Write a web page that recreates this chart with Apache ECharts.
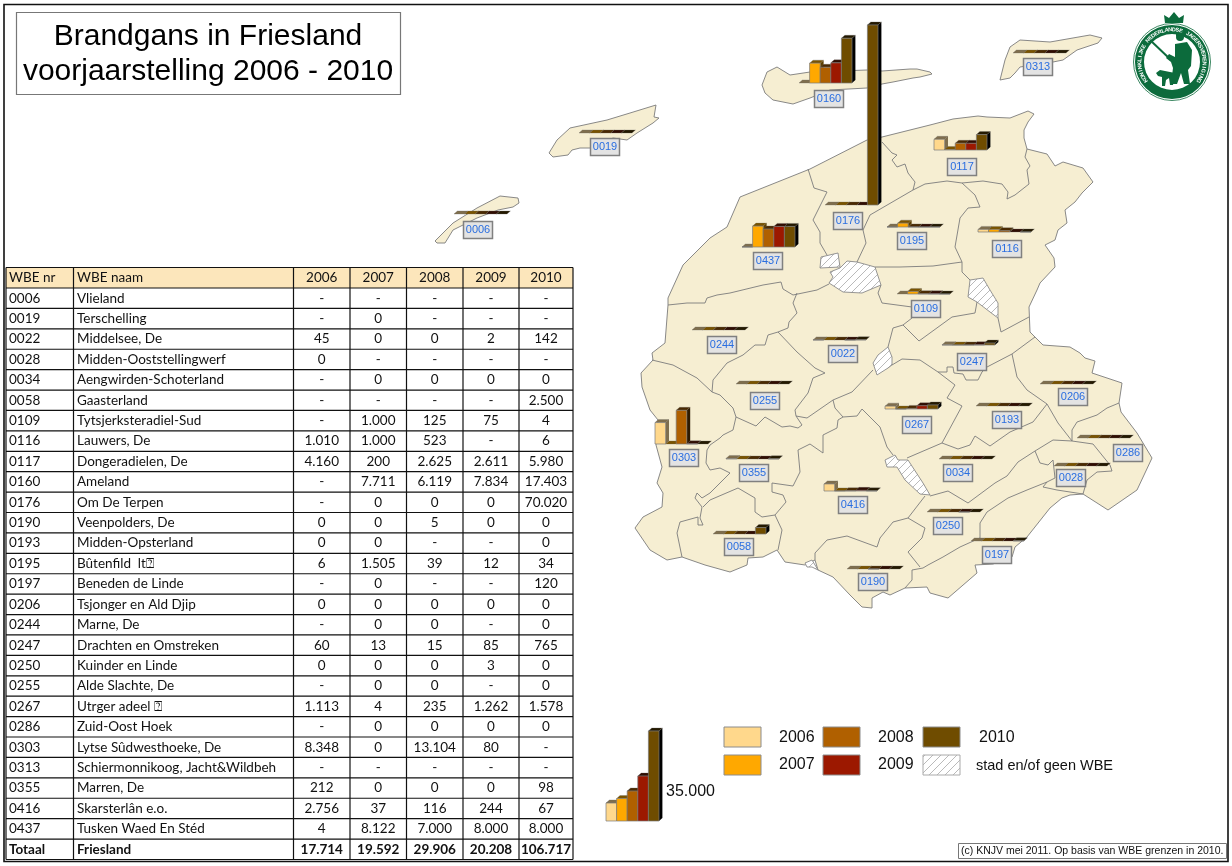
<!DOCTYPE html>
<html>
<head>
<meta charset="utf-8">
<title>Brandgans in Friesland</title>
<style>
  html, body { margin: 0; padding: 0; background: #fff; }
  #kaart { width: 1232px; height: 866px; }
</style>
<script src="https://cdn.jsdelivr.net/npm/echarts@6/dist/echarts.min.js"></script>
</head>
<body>
<div id="kaart"></div>
<script>
// tabel
const jaren = ["2006", "2007", "2008", "2009", "2010"];
const wbeNr = ["0006", "0019", "0022", "0028", "0034", "0058", "0109", "0116", "0117", "0160", "0176", "0190", "0193", "0195", "0197", "0206", "0244", "0247", "0250", "0255", "0267", "0286", "0303", "0313", "0355", "0416", "0437"];
const wbeNaam = ["Vlieland", "Terschelling", "Middelsee, De", "Midden-Ooststellingwerf", "Aengwirden-Schoterland", "Gaasterland", "Tytsjerksteradiel-Sud", "Lauwers, De", "Dongeradielen, De", "Ameland", "Om De Terpen", "Veenpolders, De", "Midden-Opsterland", "Bûtenfild  lt⍰", "Beneden de Linde", "Tsjonger en Ald Djip", "Marne, De", "Drachten en Omstreken", "Kuinder en Linde", "Alde Slachte, De", "Utrger adeel ⍰", "Zuid-Oost Hoek", "Lytse Sûdwesthoeke, De", "Schiermonnikoog, Jacht&Wildbeh", "Marren, De", "Skarsterlân e.o.", "Tusken Waed En Stéd"];
// null = "-" in de tabel
const j2006 = [null, null, 45, 0, null, null, null, 1010, 4160, null, null, 0, 0, 6, null, 0, null, 60, 0, null, 1113, null, 8348, null, 212, 2756, 4];
const j2007 = [null, 0, 0, null, 0, null, 1000, 1000, 200, 7711, 0, 0, 0, 1505, 0, 0, 0, 13, 0, 0, 4, 0, 0, null, 0, 37, 8122];
const j2008 = [null, null, 0, null, 0, null, 125, 523, 2625, 6119, 0, 5, null, 39, null, 0, 0, 15, 0, 0, 235, 0, 13104, null, 0, 116, 7000];
const j2009 = [null, null, 2, null, 0, null, 75, null, 2611, 7834, 0, 0, null, 12, null, 0, null, 85, 3, null, 1262, 0, 80, null, 0, 244, 8000];
const j2010 = [null, null, 142, null, 0, 2500, 4, 6, 5980, 17403, 70020, 0, 0, 34, 120, 0, 0, 765, 0, 0, 1578, 0, null, null, 98, 67, 8000];
const totaal = [17714, 19592, 29906, 20208, 106717];
const legendaWaarden = [7000, 8750, 11667, 17500, 35000];

// kaartgeometrie, in schermpixels
const vasteland = [[740,197],[810,169],[867,140],[882,137],[930,125],[953,119],[978,116],[987,117],[1010,118],[1028,111],[1034,114],[1028,122],[1024,130],[1024,138],[1027,149],[1047,154],[1055,166],[1063,162],[1083,168],[1093,182],[1082,193],[1075,202],[1065,210],[1067,223],[1058,230],[1055,240],[1045,245],[1054,258],[1055,267],[1040,283],[1037,290],[1029,307],[1030,332],[1035,337],[1043,345],[1070,347],[1080,353],[1085,358],[1095,361],[1092,373],[1122,383],[1119,403],[1121,412],[1137,433],[1152,458],[1137,490],[1108,510],[1083,494],[1070,495],[1062,498],[1050,508],[1027,537],[1015,547],[1012,557],[993,564],[975,565],[977,573],[955,592],[948,598],[930,593],[927,587],[905,588],[890,595],[883,592],[872,598],[872,608],[862,607],[850,595],[833,577],[818,570],[815,560],[805,565],[785,562],[777,550],[763,557],[748,558],[747,565],[730,572],[705,565],[682,557],[667,560],[650,550],[635,528],[643,517],[662,507],[663,493],[657,483],[662,467],[656,445],[658,420],[650,410],[642,387],[641,373],[653,360],[652,353],[665,343],[668,305],[668,298],[683,265],[710,238],[727,227]];
const eilanden = {
  Vlieland: [[435,241],[453,223],[477,208],[500,196],[518,198],[519,203],[513,207],[498,210],[477,218],[463,225],[453,230],[445,243],[437,243]],
  Terschelling: [[549,153],[557,140],[570,128],[607,120],[630,113],[656,105],[654,117],[659,118],[653,123],[637,133],[627,140],[613,138],[590,148],[580,148],[572,150],[568,155],[553,157]],
  Ameland: [[762,85],[767,72],[777,67],[790,75],[810,72],[867,70],[882,71],[910,69],[917,69],[930,72],[932,74],[920,77],[913,78],[893,82],[882,84],[867,88],[830,90],[810,98],[793,104],[773,100],[765,93]],
  Schiermonnikoog: [[1000,80],[1005,60],[1010,47],[1020,40],[1050,42],[1090,35],[1102,38],[1098,43],[1077,50],[1063,60],[1053,62],[1020,67],[1015,73],[1010,78]]
};
const stadVlakken = {
  stad1: [[847,261],[857,262],[875,267],[881,285],[862,293],[843,292],[829,283],[833,277],[830,272],[840,268]],
  stad2: [[821,257],[838,253],[840,267],[820,268]],
  stad3: [[970,280],[983,278],[990,290],[998,303],[998,318],[990,312],[977,302],[968,297]],
  stad4: [[888,347],[892,357],[892,365],[888,368],[877,375],[873,363],[878,355]],
  stad5: [[885,460],[895,455],[898,460],[908,460],[923,483],[930,495],[920,494],[905,480],[897,467],[887,467]],
  stad6: [[805,563],[812,560],[818,570],[812,567],[807,567]]
};
const grenzen = [
  [[808,169],[814,188],[827,192],[813,220],[820,232],[820,243],[827,255]],
  [[882,142],[892,153],[897,155],[892,160],[897,167],[905,164],[908,173],[915,182],[913,190]],
  [[913,190],[870,215],[863,230],[866,243],[857,262]],
  [[913,190],[925,184],[947,181],[962,183],[983,181],[1002,184],[1008,192],[1007,199],[1015,195],[1029,184],[1027,170],[1030,166],[1025,157],[1027,149]],
  [[962,183],[975,195],[980,207],[968,208],[960,218],[955,247],[962,262],[962,272],[970,280]],
  [[962,262],[933,266],[900,267],[875,267]],
  [[668,305],[687,303],[705,303],[707,298],[717,295],[730,293],[763,285],[781,282],[783,289],[793,295],[817,290],[829,284]],
  [[797,293],[793,303],[797,313],[789,322],[788,328],[778,332],[768,335],[765,345],[755,345],[743,355],[727,363],[713,380],[712,392]],
  [[652,360],[673,365],[697,378],[712,392]],
  [[778,332],[797,352],[815,368],[825,373],[813,378],[808,393],[795,410],[796,416]],
  [[712,392],[720,395],[733,408],[736,417],[756,426],[765,417],[782,427],[790,426],[798,428],[802,425],[796,416],[807,418],[833,400],[852,392],[873,370]],
  [[881,285],[878,293],[882,303],[912,307],[912,318],[903,325],[893,328],[888,347]],
  [[903,325],[919,341],[952,317],[975,313],[977,302]],
  [[998,318],[1001,332],[1029,317]],
  [[892,365],[902,359],[920,360],[938,372],[947,372],[947,367],[953,367],[954,373],[963,374],[966,380],[978,380],[982,372],[987,367],[1012,354],[1035,337]],
  [[938,372],[955,385],[947,398],[962,406],[942,443],[907,458]],
  [[942,443],[958,449],[970,445],[975,436],[990,446],[1010,432],[1033,422],[1047,404]],
  [[1012,354],[1017,377],[1027,390],[1047,404],[1058,423],[1072,441]],
  [[1072,441],[1072,430],[1077,422],[1097,415],[1107,408],[1119,403]],
  [[1072,441],[1093,444],[1110,465],[1112,471],[1097,472],[1087,480],[1083,494]],
  [[1072,441],[1053,440],[1035,451],[1018,462],[1007,476],[995,483],[968,503],[948,491],[930,496]],
  [[1035,451],[1040,463],[1048,465],[1053,460],[1055,478],[1047,482],[1043,487],[1057,490],[1083,494]],
  [[1047,482],[1027,490],[1008,498],[987,512],[980,523],[980,538],[960,547],[943,557],[928,565],[923,568],[912,570],[912,580],[905,588]],
  [[925,496],[908,518],[925,528],[922,538],[908,552],[920,567]],
  [[908,518],[893,522],[880,538],[877,547],[847,536],[827,540],[815,553],[815,560]],
  [[833,400],[835,408],[843,417],[838,420],[837,428],[823,435],[823,453],[810,444],[798,450],[800,472],[793,486],[772,483],[772,492],[783,495],[786,502],[775,515],[762,517],[755,512],[755,498],[738,488],[710,500],[703,507]],
  [[843,417],[857,416],[862,409],[880,427],[887,447],[893,455]],
  [[775,515],[782,530],[778,550]],
  [[736,417],[733,430],[723,435],[720,438],[710,445],[707,450],[706,463],[710,470],[720,468],[730,473],[710,493],[702,498],[697,493],[695,498],[702,507],[700,518],[703,525],[698,525],[698,517],[680,522],[677,533],[682,557]]
];

// ankerpunten per WBE in kaartcoordinaten: [balk x, balk y, label x, label y]
const ankers = {
  "0006": [454,214,478,230], "0019": [579,133,605,147], "0022": [813,340,843,354], "0028": [1054,466,1071,478],
  "0034": [939,459,958,473], "0058": [713,534,739,547], "0109": [897,294,926,309], "0116": [978,232,1007,249],
  "0117": [934,150,962,167], "0160": [799,83,829,99], "0176": [825,205,848,221], "0190": [847,569,873,582],
  "0193": [976,406,1007,420], "0195": [887,227,912,241], "0197": [971,541,997,555], "0206": [1040,384,1073,397],
  "0244": [692,330,722,345], "0247": [942,345,972,362], "0250": [927,512,948,526], "0255": [736,384,765,401],
  "0267": [885,409,917,425], "0286": [1077,438,1128,453], "0303": [655,444,684,458], "0313": [1013,53,1038,67],
  "0355": [726,459,754,473], "0416": [824,491,853,505], "0437": [742,247,768,261]
};
const legendaAnker = [606, 821];

const kleurFront = ["#ffd88c", "#ffa800", "#b06000", "#9c1800", "#6f4c00"];
const kleurDak = ["#7f6e4d", "#7a5400", "#4a2a02", "#300d02", "#241900"];
const kleurZij = ["#7f6e4d", "#5c3f00", "#2e1a00", "#1c0600", "#000000"];
const balkB = 10.6, diepteX = 3.4, diepteY = 3;
const font = "Liberation Sans";
const groen = "#0c6b3c";

const rijen = wbeNr.map((nr, i) => [nr, wbeNaam[i], j2006[i], j2007[i], j2008[i], j2009[i], j2010[i]]);
const fmt = (v) => (v === null ? "-" : String(v).replace(/\B(?=(\d{3})+$)/g, "."));

function ring(c) {
  return { type: "Feature", properties: { name: c[0] }, geometry: { type: "Polygon", coordinates: [c[1].concat([c[1][0]])] } };
}
const features = [ring(["Friesland", vasteland])]
  .concat(Object.keys(eilanden).map((k) => ring([k, eilanden[k]])))
  .concat(Object.keys(stadVlakken).map((k) => ring([k, stadVlakken[k]])))
  .concat([{ type: "Feature", properties: { name: "grenzen" }, geometry: { type: "MultiLineString", coordinates: grenzen } }]);
echarts.registerMap("friesland", { type: "FeatureCollection", features: features });

// arcering voor stad en/of geen WBE
function maakArcering() {
  const c = document.createElement("canvas");
  c.width = 8;
  c.height = 8;
  const g = c.getContext("2d");
  g.fillStyle = "#fff";
  g.fillRect(0, 0, 8, 8);
  g.strokeStyle = "#a8a8a8";
  g.lineWidth = 0.8;
  g.beginPath();
  g.moveTo(-1, 9); g.lineTo(9, -1);
  g.moveTo(-1, 1); g.lineTo(1, -1);
  g.moveTo(7, 9); g.lineTo(9, 7);
  g.stroke();
  return c;
}
const arcering = { image: maakArcering(), repeat: "repeat" };

// 3D-balkjes en het label van een WBE
function tekenWbe(params, api) {
  const basis = api.coord([api.value(0), api.value(1)]);
  const kinderen = [];
  for (let k = 0; k < jaren.length; k++) {
    const h = echarts.number.linearMap(api.value(2 + k), [0, 35000], [0, 90]);
    const x0 = basis[0] + k * balkB;
    const x1 = x0 + balkB;
    const yb = basis[1];
    const yt = yb - h;
    kinderen.push({ type: "polygon", shape: { points: [[x1, yt], [x1 + diepteX, yt - diepteY], [x1 + diepteX, yb - diepteY], [x1, yb]] }, style: { fill: kleurZij[k] } });
    kinderen.push({ type: "polygon", shape: { points: [[x0, yt], [x0 + diepteX, yt - diepteY], [x1 + diepteX, yt - diepteY], [x1, yt]] }, style: { fill: kleurDak[k], stroke: "#6a6a6a", lineWidth: 0.3 } });
    if (h > 0) {
      kinderen.push({ type: "rect", shape: { x: x0, y: yt, width: balkB, height: h }, style: { fill: kleurFront[k], stroke: "#7a7a7a", lineWidth: 0.7 } });
    }
  }
  const nr = wbeNr[params.dataIndex];
  if (nr) {
    const p = api.coord([ankers[nr][2], ankers[nr][3]]);
    kinderen.push({ type: "rect", shape: { x: p[0] - 14.5, y: p[1] - 8.5, width: 29, height: 17 }, style: { fill: "#e3e3e3", stroke: "#808080", lineWidth: 1.5 } });
    kinderen.push({ type: "text", style: { text: nr, x: p[0], y: p[1], align: "center", verticalAlign: "middle", fill: "#2a6ee0", font: "11px '" + font + "'" } });
  }
  return { type: "group", children: kinderen };
}

const balkData = rijen
  .map((r) => [ankers[r[0]][0], ankers[r[0]][1]].concat(r.slice(2).map((v) => v || 0)))
  .concat([legendaAnker.concat(legendaWaarden)]);

// tabel als graphic
const kolomX = [6, 73.5, 293.5, 350, 406.5, 463, 519, 573];
const tabelTop = 267.5, kopH = 20.5, rijH = 20.41;
const tabel = [];
function tekst(t, x, y, o) {
  return Object.assign({ type: "text", silent: true, style: Object.assign({ text: t, x: x, y: y, align: "left", verticalAlign: "middle", fill: "#111", font: "13.5px Lato" }, o || {}) });
}
const tabelOnder = tabelTop + kopH + rijH * (rijen.length + 1);
tabel.push({ type: "rect", shape: { x: kolomX[0], y: tabelTop, width: kolomX[7] - kolomX[0], height: kopH }, style: { fill: "#fce6bb" } });
kolomX.forEach((x) => tabel.push({ type: "line", shape: { x1: x, y1: tabelTop, x2: x, y2: tabelOnder }, style: { stroke: "#111", lineWidth: 1.2 } }));
for (let i = 0; i <= rijen.length + 2; i++) {
  const y = i === 0 ? tabelTop : tabelTop + kopH + rijH * (i - 1);
  tabel.push({ type: "line", shape: { x1: kolomX[0], y1: y, x2: kolomX[7], y2: y }, style: { stroke: "#111", lineWidth: 1.2 } });
}
const kopY = tabelTop + kopH / 2;
tabel.push(tekst("WBE nr", 9, kopY), tekst("WBE naam", 77, kopY));
jaren.forEach((j, k) => tabel.push(tekst(j, (kolomX[k + 2] + kolomX[k + 3]) / 2, kopY, { align: "center" })));
rijen.forEach((r, i) => {
  const y = tabelTop + kopH + rijH * (i + 0.5);
  tabel.push(tekst(r[0], 9, y), tekst(r[1], 77, y));
  for (let k = 0; k < 5; k++) {
    tabel.push(tekst(fmt(r[k + 2]), (kolomX[k + 2] + kolomX[k + 3]) / 2, y, { align: "center" }));
  }
});
const totY = tabelTop + kopH + rijH * (rijen.length + 0.5);
const vet = { font: "bold 13.5px Lato" };
tabel.push(tekst("Totaal", 9, totY, vet), tekst("Friesland", 77, totY, vet));
totaal.forEach((v, k) => tabel.push(tekst(fmt(v), (kolomX[k + 2] + kolomX[k + 3]) / 2, totY, Object.assign({ align: "center" }, vet))));

// legenda
const legenda = [];
const swatches = [[724, 727, 0], [724, 755, 1], [823, 727, 2], [823, 755, 3], [923, 727, 4]];
swatches.forEach((s) => legenda.push({ type: "rect", shape: { x: s[0], y: s[1], width: 37, height: 20 }, style: { fill: kleurFront[s[2]], stroke: "#8c8c8c", lineWidth: 1 } }));
legenda.push({ type: "rect", shape: { x: 923, y: 755, width: 37, height: 20 }, style: { fill: arcering, stroke: "#aaa", lineWidth: 1 } });
const legFont = { font: "16px '" + font + "'", fill: "#111" };
[[779, 738, "2006"], [779, 765, "2007"], [878, 738, "2008"], [878, 765, "2009"], [979, 738, "2010"], [666, 792, "35.000"]]
  .forEach((t) => legenda.push(tekst(t[2], t[0], t[1], legFont)));
legenda.push(tekst("stad en/of geen WBE", 976, 766, { font: "14.5px '" + font + "'", fill: "#111" }));

// logo KNJV
const logo = [];
const lx = 1172, ly = 62;
logo.push({ type: "circle", shape: { cx: lx, cy: ly, r: 38.5 }, style: { fill: "#fff", stroke: groen, lineWidth: 0.8 } });
logo.push({ type: "ring", shape: { cx: lx, cy: ly, r: 37, r0: 28 }, style: { fill: groen } });
logo.push({ type: "polygon", shape: { points: [[1165,23],[1164,15],[1169,18],[1174,12],[1179,18],[1184,15],[1183,23]] }, style: { fill: groen } });
const logoTekst = "KONINKLIJKE NEDERLANDSE JAGERSVERENIGING";
Array.from(logoTekst).forEach((ch, i) => {
  const a = (-125 + (250 * i) / (logoTekst.length - 1)) * Math.PI / 180;
  logo.push({ type: "text", x: lx + 32.3 * Math.sin(a), y: ly - 32.3 * Math.cos(a), rotation: -a, style: { text: ch, x: 0, y: 0, align: "center", verticalAlign: "middle", fill: "#fff", font: "bold 5.5px '" + font + "'" } });
});
logo.push({ type: "line", shape: { x1: 1150, y1: 40, x2: 1171, y2: 60 }, style: { stroke: groen, lineWidth: 2 } });
logo.push({ type: "circle", shape: { cx: 1180, cy: 37, r: 4 }, style: { fill: groen } });
logo.push({ type: "polygon", shape: { points: [[1176,33],[1185,32],[1185,35],[1176,36]] }, style: { fill: groen } });
logo.push({ type: "polygon", shape: { points: [[1175,44],[1187,42],[1192,50],[1191,66],[1188,70],[1190,84],[1184,84],[1181,73],[1177,84],[1171,84],[1173,68],[1171,62],[1166,58],[1169,54],[1175,57]] }, style: { fill: groen } });
logo.push({ type: "polygon", shape: { points: [[1156,73],[1160,70],[1165,71],[1175,73],[1173,85],[1170,85],[1169,78],[1166,80],[1165,86],[1162,86],[1162,77],[1158,76]] }, style: { fill: groen } });

const option = {
  animation: false,
  backgroundColor: "#fff",
  geo: {
    map: "friesland",
    silent: true,
    roam: false,
    left: 0,
    top: 0,
    width: 1232,
    height: 866,
    boundingCoords: [[0, 0], [1232, 866]],
    projection: { project: (c) => c, unproject: (c) => c },
    itemStyle: { areaColor: "#f6eed2", borderColor: "#7c7c7c", borderWidth: 0.9 },
    label: { show: false },
    regions: Object.keys(stadVlakken).map((k) => ({ name: k, itemStyle: { areaColor: arcering, borderColor: "#8a8a8a" } }))
  },
  series: [{
    type: "custom",
    coordinateSystem: "geo",
    silent: true,
    renderItem: tekenWbe,
    data: balkData,
    z: 5
  }],
  graphic: {
    elements: [
      { type: "rect", z: 0, silent: true, shape: { x: 4, y: 4.5, width: 1224, height: 857 }, style: { fill: "none", stroke: "#111", lineWidth: 1.6 } },
      { type: "group", silent: true, children: [
        { type: "rect", shape: { x: 16.5, y: 12.5, width: 384, height: 82 }, style: { fill: "#fff", stroke: "#777", lineWidth: 1.2 } },
        tekst("Brandgans in Friesland", 208, 37, { align: "center", font: "30px '" + font + "'", fill: "#000" }),
        tekst("voorjaarstelling 2006 - 2010", 208, 72, { align: "center", font: "30px '" + font + "'", fill: "#000" })
      ] },
      { type: "group", silent: true, children: tabel },
      { type: "group", silent: true, children: legenda },
      { type: "group", silent: true, children: logo },
      { type: "group", silent: true, children: [
        { type: "rect", shape: { x: 958.5, y: 843.5, width: 268, height: 15 }, style: { fill: "#fff", stroke: "#777", lineWidth: 1 } },
        tekst("(c) KNJV mei 2011. Op basis van WBE grenzen in 2010.", 961, 851.5, { font: "10.5px '" + font + "'", fill: "#111" })
      ] }
    ]
  }
};

const myChart = echarts.init(document.getElementById("kaart"), null, { renderer: "canvas" });
myChart.setOption(option);
</script>
</body>
</html>
